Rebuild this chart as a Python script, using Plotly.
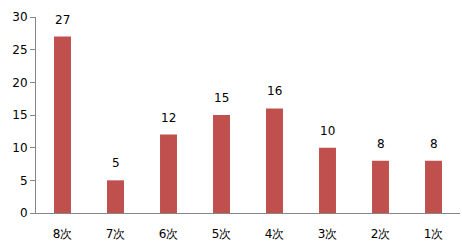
import plotly.graph_objects as go

categories = ["8次", "7次", "6次", "5次", "4次", "3次", "2次", "1次"]
values = [27, 5, 12, 15, 16, 10, 8, 8]

fig = go.Figure(go.Bar(
    x=categories, y=values,
    marker=dict(color="#C0504D", line=dict(width=0)),
))
for c, v in zip(categories, values):
    fig.add_annotation(x=c, y=v, text=str(v), showarrow=False,
                       yanchor="bottom", yshift=8,
                       font=dict(size=12, color="#000000"))
fig.update_layout(
    width=462, height=252,
    margin=dict(l=36, r=2, t=17, b=39),
    paper_bgcolor="white", plot_bgcolor="white",
    bargap=0.68,
    showlegend=False,
    font=dict(family="DejaVu Sans, sans-serif", size=12, color="#000000"),
)
fig.update_xaxes(
    showline=True, linecolor="#868686", linewidth=1,
    ticks="", showgrid=False, tickfont=dict(size=12),
    ticklabelstandoff=10,
)
fig.update_yaxes(
    range=[0, 30], dtick=5, showline=True, linecolor="#868686", linewidth=1,
    ticks="outside", ticklen=5, tickcolor="#868686", showgrid=False,
    zeroline=False, tickfont=dict(size=12),
)
fig.write_html("out.html")
